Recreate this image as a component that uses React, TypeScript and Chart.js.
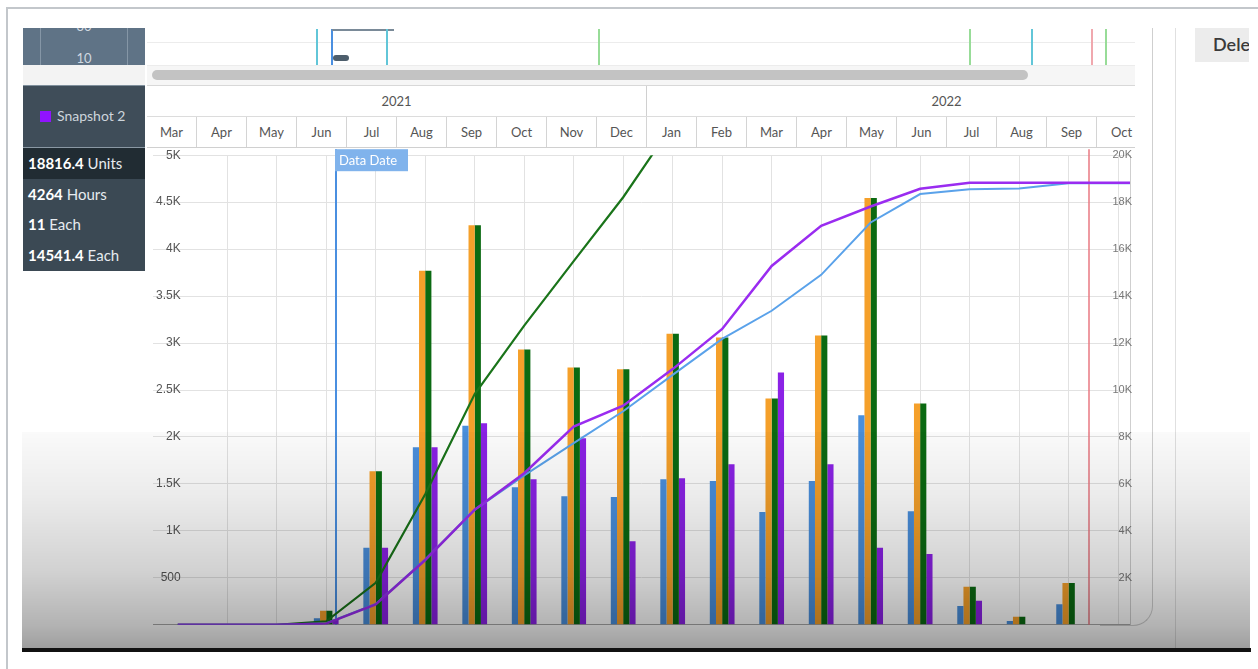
import React, { useEffect, useRef } from 'react';
import { Chart, registerables } from 'chart.js';
Chart.register(...registerables);

// ---- data ----
const months = ['Mar', 'Apr', 'May', 'Jun', 'Jul', 'Aug', 'Sep', 'Oct', 'Nov', 'Dec', 'Jan', 'Feb', 'Mar', 'Apr', 'May', 'Jun', 'Jul', 'Aug', 'Sep', 'Oct', 'Nov', 'Dec'];
const yearLabels = ['2021', '2022'];
const yearSpans = [10, 12];

const blueBars = [0, 0, 0, 70, 820, 1890, 2120, 1465, 1370, 1360, 1550, 1530, 1200, 1530, 2230, 1210, 200, 40, 220, null, null, null];
const orangeBars = [0, 0, 0, 150, 1635, 3770, 4255, 2930, 2740, 2720, 3100, 3060, 2410, 3080, 4545, 2355, 405, 85, 445, null, null, null];
const greenBars = [0, 0, 0, 150, 1635, 3770, 4255, 2930, 2740, 2720, 3100, 3060, 2410, 3080, 4545, 2355, 405, 85, 445, null, null, null];
const purpleBars = [0, 0, 0, 50, 820, 1890, 2145, 1550, 1985, 890, 1560, 1710, 2685, 1710, 820, 755, 255, 0, 0, null, null, null];

const greenLine = [0, 0, 0, 150, 1790, 5560, 9830, 12740, 15490, 18210, 21300, null, null, null, null, null, null, null, null, null, null, null];
const blueLine = [0, 0, 0, 70, 890, 2780, 4900, 6365, 7735, 9095, 10645, 12175, 13375, 14905, 17135, 18345, 18545, 18585, 18805, 18805, 18805, 18805];
const purpleLine = [0, 0, 0, 50, 870, 2760, 4905, 6455, 8440, 9330, 10890, 12600, 15285, 16995, 17815, 18570, 18825, 18825, 18825, 18825, 18825, 18825];

const summaryValues = ['18816.4', '4264', '11', '14541.4'];
const summaryUnits = ['Units', 'Hours', 'Each', 'Each'];

const dataDate = 3.2;    // early June 2021 (month index)
const finishDate = 18.42; // mid September 2022 (month index)

const fmtK = (v: number) => (v === 0 ? '' : v >= 1000 ? `${v / 1000}K` : String(v));
const pts = (arr: (number | null)[]) => arr.map((v, i) => ({ x: i, y: v }));

const UI_FONT = 'Lato, "Open Sans", sans-serif';

const markerPlugin = {
  id: 'markers',
  beforeDatasetsDraw(chart: any) {
    const { ctx, chartArea, scales } = chart;
    const x = scales.x;
    const top = chartArea.top - 6;
    const dx = Math.round(x.getPixelForValue(dataDate));
    const fx = Math.round(x.getPixelForValue(finishDate));
    ctx.save();
    ctx.lineWidth = 2;
    ctx.strokeStyle = '#4a8fe0';
    ctx.beginPath();
    ctx.moveTo(dx, top);
    ctx.lineTo(dx, chartArea.bottom);
    ctx.stroke();
    ctx.strokeStyle = 'rgba(232,120,130,0.75)';
    ctx.beginPath();
    ctx.moveTo(fx, top);
    ctx.lineTo(fx, chartArea.bottom);
    ctx.stroke();
    ctx.restore();
  },
  afterDatasetsDraw(chart: any) {
    const { ctx, chartArea, scales } = chart;
    const top = chartArea.top - 6;
    const dx = Math.round(scales.x.getPixelForValue(dataDate));
    ctx.save();
    ctx.fillStyle = '#80b3ec';
    ctx.fillRect(dx - 1, top, 73, 22);
    ctx.fillStyle = '#ffffff';
    ctx.font = '13px ' + UI_FONT;
    ctx.textBaseline = 'middle';
    ctx.fillText('Data Date', dx + 3, top + 12);
    ctx.restore();
  },
};

function ChartCanvas() {
  const ref = useRef<HTMLCanvasElement | null>(null);
  useEffect(() => {
    if (!ref.current) return;
    const lineCommon = { type: 'line' as const, yAxisID: 'y1', pointRadius: 0, tension: 0, fill: false, spanGaps: false };
    const barCommon = { type: 'bar' as const, yAxisID: 'y', categoryPercentage: 0.5, barPercentage: 1, borderWidth: 0 };
    const chart = new Chart(ref.current, {
      type: 'bar',
      data: {
        datasets: [
          { ...lineCommon, label: 'Snapshot 2 cumulative', data: pts(purpleLine), borderColor: '#9a2cf0', borderWidth: 2.5 },
          { ...lineCommon, label: 'Planned cumulative', data: pts(blueLine), borderColor: '#5aa2ea', borderWidth: 2 },
          { ...lineCommon, label: 'Actual cumulative', data: pts(greenLine), borderColor: '#1a741a', borderWidth: 2.2 },
          { ...barCommon, label: 'Planned', data: pts(blueBars), backgroundColor: '#4a8fdc' },
          { ...barCommon, label: 'Baseline', data: pts(orangeBars), backgroundColor: '#f5a02a' },
          { ...barCommon, label: 'Actual', data: pts(greenBars), backgroundColor: '#0b6a12' },
          { ...barCommon, label: 'Snapshot 2', data: pts(purpleBars), backgroundColor: '#8b22e6' },
        ] as any,
      },
      options: {
        animation: false,
        responsive: false,
        devicePixelRatio: 1,
        layout: { autoPadding: false, padding: { top: 6, bottom: 1, left: 0, right: 0 } },
        plugins: { legend: { display: false }, tooltip: { enabled: false } },
        scales: {
          x: {
            type: 'linear',
            min: -0.5,
            max: 19.24,
            offset: false,
            ticks: { display: false, stepSize: 1, includeBounds: false },
            grid: {
              offset: false,
              drawTicks: false,
              color: (c: any) => (c.tick && c.tick.value === 0 ? 'rgba(0,0,0,0)' : '#e2e2e2'),
            },
            border: { display: true, color: '#a8a8a8' },
          },
          y: {
            position: 'left',
            min: 0,
            max: 5000,
            ticks: {
              stepSize: 500,
              mirror: true,
              crossAlign: 'far',
              padding: 3,
              callback: (v: any) => fmtK(Number(v)),
              color: '#555',
              font: { size: 12, family: '"Liberation Sans", Arial, sans-serif' },
            },
            grid: { drawTicks: false, color: '#e2e2e2' },
            border: { display: false },
          },
          y1: {
            position: 'right',
            min: 0,
            max: 20000,
            ticks: {
              stepSize: 2000,
              mirror: true,
              padding: 2,
              callback: (v: any) => fmtK(Number(v)),
              color: '#777',
              font: { size: 11, family: '"Liberation Sans", Arial, sans-serif' },
            },
            grid: { display: false, drawTicks: false },
            border: { display: true, color: '#cfcfcf' },
          },
        },
      } as any,
      plugins: [markerPlugin],
    });
    return () => chart.destroy();
  }, []);
  return <canvas ref={ref} width={987} height={490} style={{ display: 'block' }} />;
}

const abs = (left: number, top: number, width: number, height: number, extra: React.CSSProperties = {}): React.CSSProperties => ({
  position: 'absolute',
  left,
  top,
  width,
  height,
  boxSizing: 'border-box',
  ...extra,
});

export default function App() {
  const vline = (left: number, color: string, key: string) => (
    <div key={key} style={abs(left, 29, 2, 36, { background: color })} />
  );
  return (
    <div style={abs(0, 0, 1258, 669, { background: '#fff', overflow: 'hidden', fontFamily: UI_FONT })}>
      {/* outer frame */}
      <div style={abs(6, 7, 1252, 662, { borderTop: '2px solid #c3c7cb', borderLeft: '2px solid #c3c7cb' })} />

      {/* left top mini panel */}
      <div style={abs(23, 28, 122, 37, { background: '#5f7386', overflow: 'hidden' })}>
        <div style={abs(17, 0, 1, 37, { background: '#8596a6' })} />
        <div style={abs(104, 0, 1, 37, { background: '#8596a6' })} />
        <div style={abs(0, -10, 122, 16, { color: '#cfd8e0', fontSize: 13, textAlign: 'center' })}>30</div>
        <div style={abs(0, 22, 122, 16, { color: '#cfd8e0', fontSize: 13, textAlign: 'center' })}>10</div>
      </div>
      <div style={abs(23, 65, 122, 20, { background: '#f3f3f3' })} />

      {/* legend box */}
      <div style={abs(23, 85, 122, 63, { background: '#3f4d59', borderTop: '1px solid #7f8f9c', borderBottom: '1px solid #8a98a4' })}>
        <div style={abs(17, 25, 11, 11, { background: '#9013fe' })} />
        <div style={abs(34, 21, 90, 18, { color: '#cdd5dc', fontSize: 14, whiteSpace: 'nowrap' })}>Snapshot 2</div>
      </div>

      {/* summary rows */}
      {summaryValues.map((v, i) => (
        <div
          key={i}
          style={abs(23, 148 + i * 30.7, 122, 30.7, {
            background: i === 0 ? '#212c33' : '#3b4954',
            color: '#e6ebef',
            fontSize: 15,
            lineHeight: '30px',
            paddingLeft: 5,
            whiteSpace: 'nowrap',
          })}
        >
          <b style={{ color: '#fff' }}>{v}</b> {summaryUnits[i]}
        </div>
      ))}

      {/* mini gantt strip */}
      <div style={abs(147, 28, 988, 37, { background: '#fff', overflow: 'hidden' })}>
        <div style={abs(0, 14, 988, 1, { background: '#ececec' })} />
      </div>
      {vline(316, '#62c6d8', 'a')}
      {vline(331, '#4a8fe0', 'b')}
      <div style={abs(332, 29, 62, 2, { background: '#7a8a98' })} />
      <div style={abs(333, 55, 16, 6, { background: '#4d5e6c', borderRadius: 3 })} />
      {vline(386, '#62c6d8', 'c')}
      {vline(598, '#98dc98', 'd')}
      {vline(969, '#98dc98', 'e')}
      {vline(1031, '#62c6d8', 'f')}
      {vline(1091, '#f0a8ae', 'g')}
      {vline(1105, '#98dc98', 'h')}

      {/* scrollbar */}
      <div style={abs(147, 65, 988, 20, { background: '#f6f6f6', borderTop: '1px solid #ececec' })} />
      <div style={abs(152, 70, 876, 10, { background: '#c3c3c3', borderRadius: 5 })} />

      {/* header */}
      <div style={abs(147, 85, 988, 63, { overflow: 'hidden', borderTop: '1px solid #d8d8d8', background: '#fff' })}>
        <div style={{ display: 'flex', height: 31, borderBottom: '1px solid #dcdcdc', boxSizing: 'border-box' }}>
          {yearLabels.map((y, i) => (
            <div
              key={y}
              style={{
                flex: `0 0 ${yearSpans[i] * 50}px`,
                borderRight: '1px solid #d0d0d0',
                boxSizing: 'border-box',
                textAlign: 'center',
                lineHeight: '30px',
                fontSize: 13,
                color: '#555',
              }}
            >
              {y}
            </div>
          ))}
        </div>
        <div style={{ display: 'flex', height: 31, borderBottom: '1px solid #d0d0d0', boxSizing: 'border-box' }}>
          {months.map((m, i) => (
            <div
              key={i}
              style={{
                flex: '0 0 50px',
                borderRight: '1px solid #d4d4d4',
                boxSizing: 'border-box',
                textAlign: 'center',
                lineHeight: '31px',
                fontSize: 13,
                color: '#555',
              }}
            >
              {m}
            </div>
          ))}
        </div>
      </div>

      {/* chart */}
      <div style={abs(147, 145, 987, 490, {})}>
        <ChartCanvas />
      </div>

      {/* right side panel */}
      <div style={abs(1100, 28, 53, 598, { borderRight: '1px solid #cfcfcf', borderBottom: '1px solid #cfcfcf', borderBottomRightRadius: 20 })} />
      <div style={abs(1175, 28, 1, 620, { background: '#e0e0e0' })} />
      <div style={abs(1195, 28, 54, 34, { background: '#ececec', overflow: 'hidden' })}>
        <div style={{ position: 'absolute', left: 18, top: 5, fontSize: 18, fontWeight: 600, color: '#3a3a3a', whiteSpace: 'nowrap' }}>Delete</div>
      </div>

      {/* video shading overlay */}
      <div
        style={abs(22, 432, 1228, 216, {
          background:
            'linear-gradient(to bottom, rgba(0,0,0,0.02) 0%, rgba(0,0,0,0.08) 30%, rgba(0,0,0,0.18) 65%, rgba(0,0,0,0.3) 90%, rgba(0,0,0,0.38) 100%)',
          pointerEvents: 'none',
        })}
      />
      <div style={abs(22, 648, 1229, 4, { background: '#111' })} />
    </div>
  );
}
